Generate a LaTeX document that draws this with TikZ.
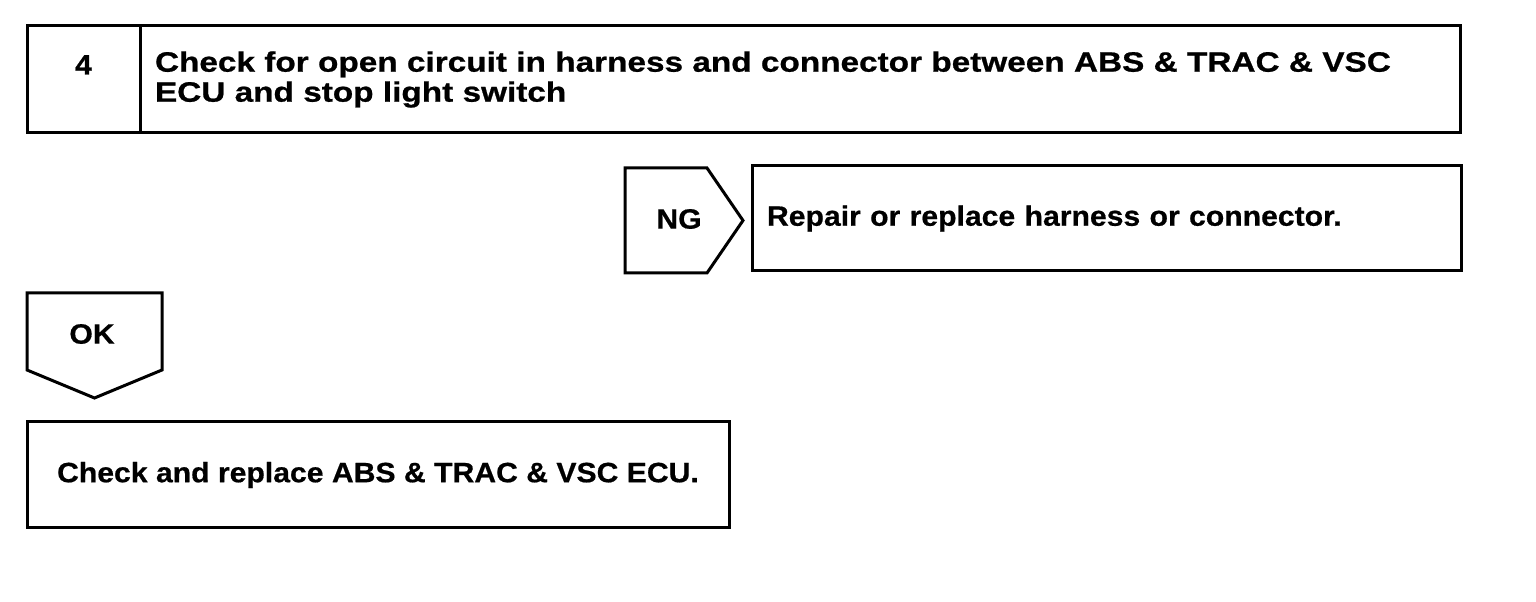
\documentclass[tikz,border=0pt]{standalone}
\usepackage{fontspec}
\setmainfont{Liberation Sans}
\newfontfamily\widefont[FakeStretch=1.19,FakeBold=0.8]{Liberation Sans}
\newfontfamily\midfont[FakeStretch=1.077,FakeBold=0.6]{Liberation Sans}
\usetikzlibrary{positioning,calc}
\tikzset{
    txt/.style =    {font=\midfont\bfseries\fontsize{28}{30}\selectfont,
                    text=black},
    numbox/.style = {rectangle,
                    txt,
                    draw=black,
                    line width=3pt,
                    outer sep=0pt,
                    minimum width=113pt,
                    minimum height=107pt,
                    text height=20pt,
                    text depth=30pt},
    stepbox/.style ={rectangle,
                    txt,
                    font=\widefont\bfseries\fontsize{28}{30}\selectfont,
                    draw=black,
                    line width=3pt,
                    outer sep=0pt,
                    minimum height=107pt,
                    inner xsep=15pt,
                    text width=1290pt,
                    align=left},
    resbox/.style = {rectangle,
                    txt,
                    draw=black,
                    line width=3pt,
                    outer sep=0pt,
                    minimum height=105pt,
                    inner xsep=15pt,
                    text width=679pt,
                    align=left},
    endbox/.style = {rectangle,
                    txt,
                    draw=black,
                    line width=3pt,
                    minimum width=702pt,
                    minimum height=106pt},
    tag/.style =    {txt,
                    inner sep=0pt},
    -,
    outline/.style ={draw=black,
                    line width=3pt,
                    line join=miter}
}

\begin{document}
\begin{tikzpicture}[x=1pt,y=1pt]
    \useasboundingbox (0,0) rectangle (1536,602);
    % step 4
    \node[numbox]   (num)   at (83.5,522.5)     {4};
    \node[stepbox]  (step)  [right=0pt of num]  {Check for open circuit in harness and connector between ABS \& TRAC \& VSC\\ECU and stop light switch};
    % NG branch
    \draw[outline] (625,434) -- (707,434) -- (743,381.5) -- (707,329) -- (625,329) -- cycle;
    \node[tag]      (ng)    at (679,383)        {NG};
    \node[resbox]   (repair) at (1106.5,383.5)  {Repair or replace harness or connector.};
    % OK branch
    \draw[outline] (27,309) -- (162,309) -- (162,232) -- (94.5,204) -- (27,232) -- cycle;
    \node[tag]      (ok)    at (92,268)         {OK};
    \node[endbox]   (ecu)   at (378,127)        {Check and replace ABS \& TRAC \& VSC ECU.};
\end{tikzpicture}
\end{document}
